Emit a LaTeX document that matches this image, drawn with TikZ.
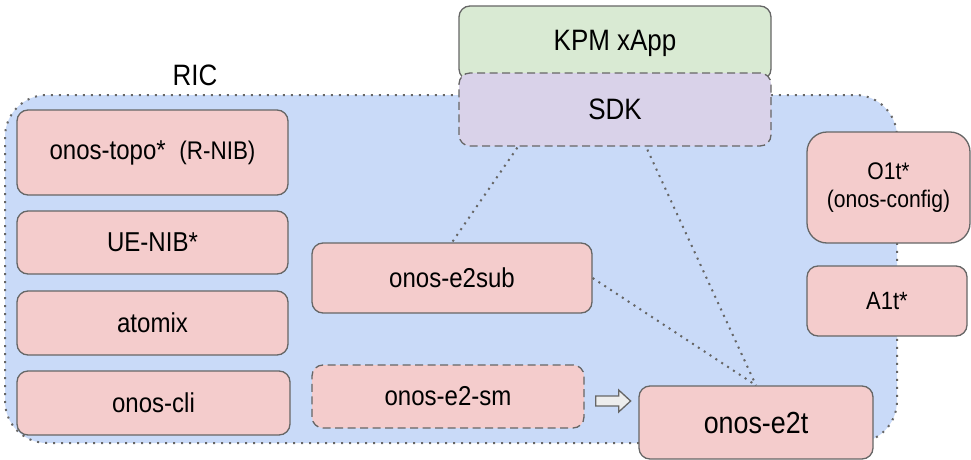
\documentclass[tikz,border=0pt]{standalone}
\usepackage{fontspec}
\setmainfont{Liberation Sans}[FakeStretch=0.88]
\definecolor{ricblue}{HTML}{C9DAF8}
\definecolor{boxpink}{HTML}{F4CCCC}
\definecolor{appgreen}{HTML}{D9EAD3}
\definecolor{sdkpurple}{HTML}{D9D2E9}
\definecolor{edgegray}{HTML}{666666}
\begin{document}
\begin{tikzpicture}[x=1pt, y=-1pt,
	comp/.style={draw=edgegray, line width=1.3pt, fill=boxpink, rounded corners=11pt, inner sep=0pt, align=center, font=\fontsize{27.3}{31}\selectfont},
	dashbox/.style={dash pattern=on 8pt off 4.5pt},
	link/.style={edgegray, line width=2pt, dash pattern=on 2pt off 5pt}]
	\useasboundingbox (0,0) rectangle (971,460);

	% RIC area
	\fill[ricblue, rounded corners=42pt] (5,95) rectangle (897,443);
	\draw[edgegray, line width=2pt, dash pattern=on 2pt off 6pt, rounded corners=42pt] (5,95) rectangle (897,443);
	\node[font=\fontsize{29.5}{34}\selectfont] (ric) at (195,75) {RIC};

	% xApp and SDK
	\node[comp, fill=appgreen, minimum width=312pt, minimum height=74pt, font=\fontsize{29.5}{34}\selectfont] (kpm) at (615,43) {KPM xApp};
	\node[comp, dashbox, fill=sdkpurple, minimum width=312pt, minimum height=73pt, font=\fontsize{29.5}{34}\selectfont] (sdk) at (615,109.5) {SDK};

	% left column
	\node[comp, minimum width=271pt, minimum height=85pt] (topo) at (152.5,152.5) {onos-topo*\hspace{7pt} {\fontsize{25.5}{29}\selectfont (R-NIB)}};
	\node[comp, minimum width=271pt, minimum height=63pt] (uenib) at (152.5,242.5) {UE-NIB*};
	\node[comp, minimum width=271pt, minimum height=64pt] (atomix) at (152.5,323) {atomix};
	\node[comp, minimum width=273pt, minimum height=64pt] (cli) at (153.5,403) {onos-cli};

	% middle
	\node[comp, minimum width=280pt, minimum height=70pt] (e2sub) at (452,278) {onos-e2sub};
	\node[comp, dashbox, minimum width=272pt, minimum height=63pt] (e2sm) at (448,396.5) {onos-e2-sm};
	\node[comp, minimum width=234pt, minimum height=73pt, font=\fontsize{30.5}{35}\selectfont] (e2t) at (756,422.5) {onos-e2t};

	% right column
	\node[comp, rounded corners=20pt, minimum width=163pt, minimum height=111pt, font=\fontsize{24}{28}\selectfont] (o1t) at (888.5,187.5) {O1t*\\(onos-config)};
	\node[comp, minimum width=160pt, minimum height=70pt, font=\fontsize{25}{29}\selectfont] (a1t) at (887,301) {A1t*};

	% links
	\draw[link] (sdk.south west) ++(59,1) -- (e2sub.north);
	\draw[link] (sdk.south west) ++(189,3) -- (e2t.north);
	\draw[link] (e2sub.east) -- (e2t.north);

	% e2-sm to e2t
	\draw[edgegray, line width=1.3pt, fill=black!7] (e2sm.east) ++(11,-0.5) -- ++(23,0) -- ++(0,-6) -- ++(12,11) -- ++(-12,11) -- ++(0,-6) -- ++(-23,0) -- cycle;
\end{tikzpicture}
\end{document}
